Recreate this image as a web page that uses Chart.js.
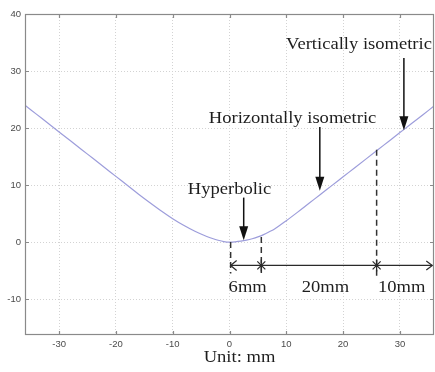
<!DOCTYPE html>
<html><head><meta charset="utf-8">
<script src="https://cdn.jsdelivr.net/npm/chart.js@4/dist/chart.umd.min.js"></script>
<style>html,body{margin:0;padding:0;background:#fff;overflow:hidden}canvas{display:block}</style>
</head><body>
<canvas id="c" width="435" height="372"></canvas>
<script>
// ---- data ----
const curveX = [-36,-34,-32,-30,-28,-26,-24,-22,-20,-18,-16,-14,-12,-10,-8,-6,-4,-3,-2,-1,0,1,2,3,4,5,6,7,8,10,12,14,16,18,20,22,24,26,28,30,32,34,36];
const curveY = [24.0,22.44,20.88,19.32,17.76,16.2,14.64,13.08,11.52,9.96,8.4,6.9,5.45,4.1,2.9,1.85,0.98,0.62,0.32,0.09,0,0.04,0.15,0.33,0.58,0.9,1.3,1.8,2.35,3.75,5.25,6.8,8.35,9.9,11.45,13.0,14.55,16.1,17.65,19.2,20.75,22.3,23.85];
const xTickValues = [-30,-20,-10,0,10,20,30];
const yTickValues = [-10,0,10,20,30,40];
const xLimits = [-36, 36];
const yLimits = [-16.3, 40];
const guideX = [0.2, 5.6, 25.9];          // dashed guide positions (mm)
const guideTop = [0, 0.9, 16.2];
const guideBottom = [-5.5, -5.5, -6.4];
const spanY = -4.1;                        // horizontal dimension line
const spanEnd = 35.7;
const spanLabels = ['6mm', '20mm', '10mm'];
const spanLabelX = [3.2, 16.9, 30.3];
const spanLabelY = -8.7;
const calloutText = ['Hyperbolic', 'Horizontally isometric', 'Vertically isometric'];
const calloutTextX = [0, 11.1, 22.8];
const calloutTextY = [8.5, 20.9, 33.8];
const calloutArrowX = [2.5, 15.9, 30.7];
const calloutArrowFrom = [7.8, 20.2, 32.3];
const calloutArrowTo = [0.3, 9.0, 19.6];
const axisLabel = 'Unit: mm';

const points = curveX.map((x, i) => ({x: x, y: curveY[i]}));

function stretchText(ctx, txt, px, py) {
  ctx.save();
  ctx.translate(px, py);
  ctx.scale(1.16, 1);
  ctx.fillText(txt, 0, 0);
  ctx.restore();
}

const annot = {
  id: 'annot',
  afterDatasetsDraw(chart) {
    const ctx = chart.ctx, xs = chart.scales.x, ys = chart.scales.y;
    const X = v => xs.getPixelForValue(v), Y = v => ys.getPixelForValue(v);
    ctx.save();
    // dashed guides
    ctx.strokeStyle = '#333'; ctx.lineWidth = 1.5; ctx.setLineDash([6, 4]);
    guideX.forEach((gx, i) => {
      ctx.beginPath(); ctx.moveTo(X(gx), Y(guideTop[i])); ctx.lineTo(X(gx), Y(guideBottom[i])); ctx.stroke();
    });
    ctx.setLineDash([]);
    // dimension line
    const yL = Y(spanY), x0 = X(guideX[0]), x1 = X(spanEnd);
    ctx.lineWidth = 1.2; ctx.strokeStyle = '#2a2a2a';
    ctx.beginPath(); ctx.moveTo(x0, yL); ctx.lineTo(x1, yL); ctx.stroke();
    ctx.beginPath(); ctx.moveTo(x0 + 6, yL - 5); ctx.lineTo(x0, yL); ctx.lineTo(x0 + 6, yL + 5); ctx.stroke();
    ctx.beginPath(); ctx.moveTo(x1 - 6, yL - 4.5); ctx.lineTo(x1, yL); ctx.lineTo(x1 - 6, yL + 4.5); ctx.stroke();
    // star marks
    [guideX[1], guideX[2]].forEach(gx => {
      const px = X(gx);
      ctx.beginPath();
      ctx.moveTo(px - 4, yL - 4); ctx.lineTo(px + 4, yL + 4);
      ctx.moveTo(px + 4, yL - 4); ctx.lineTo(px - 4, yL + 4);
      ctx.moveTo(px, yL - 6); ctx.lineTo(px, yL + 6);
      ctx.stroke();
    });
    // texts
    ctx.fillStyle = '#1e1e1e';
    ctx.font = '16px "Liberation Serif", "Times New Roman", serif';
    ctx.textAlign = 'center'; ctx.textBaseline = 'alphabetic';
    spanLabels.forEach((t, i) => stretchText(ctx, t, X(spanLabelX[i]), Y(spanLabelY)));
    calloutText.forEach((t, i) => stretchText(ctx, t, X(calloutTextX[i]), Y(calloutTextY[i])));
    // arrows
    ctx.strokeStyle = '#111'; ctx.fillStyle = '#111'; ctx.lineWidth = 1.5;
    calloutArrowX.forEach((ax, i) => {
      const px = X(ax), y1 = Y(calloutArrowFrom[i]), y2 = Y(calloutArrowTo[i]);
      ctx.beginPath(); ctx.moveTo(px, y1); ctx.lineTo(px, y2 - 12); ctx.stroke();
      ctx.beginPath(); ctx.moveTo(px - 4.5, y2 - 14); ctx.lineTo(px + 4.5, y2 - 14); ctx.lineTo(px, y2); ctx.closePath(); ctx.fill();
    });
    ctx.restore();
  },
  afterDraw(chart) {
    const ctx = chart.ctx, a = chart.chartArea, xs = chart.scales.x, ys = chart.scales.y;
    ctx.save();
    ctx.strokeStyle = '#8a8a8a'; ctx.lineWidth = 1.2;
    ctx.strokeRect(a.left + 0.5, a.top + 0.5, a.right - a.left - 1, a.bottom - a.top - 1);
    ctx.beginPath();
    xTickValues.forEach(v => {
      const px = Math.round(xs.getPixelForValue(v)) + 0.5;
      ctx.moveTo(px, a.bottom); ctx.lineTo(px, a.bottom - 4);
      ctx.moveTo(px, a.top); ctx.lineTo(px, a.top + 4);
    });
    yTickValues.forEach(v => {
      const py = Math.round(ys.getPixelForValue(v)) + 0.5;
      ctx.moveTo(a.left, py); ctx.lineTo(a.left + 4, py);
      ctx.moveTo(a.right, py); ctx.lineTo(a.right - 4, py);
    });
    ctx.stroke();
    // axis label
    ctx.fillStyle = '#1e1e1e';
    ctx.font = '16px "Liberation Serif", "Times New Roman", serif';
    ctx.textAlign = 'center'; ctx.textBaseline = 'alphabetic';
    stretchText(ctx, axisLabel, (a.left + a.right) / 2 + 10, chart.height - 10);
    ctx.restore();
  }
};

const tickFont = {family: '"Liberation Sans", Arial, sans-serif', size: 9.5};
new Chart(document.getElementById('c'), {
  type: 'scatter',
  data: {datasets: [{
    data: points, showLine: true, pointRadius: 0, borderColor: '#9d9ddb', borderWidth: 1.2,
    cubicInterpolationMode: 'monotone', fill: false
  }]},
  options: {
    responsive: false, animation: false, devicePixelRatio: 1,
    layout: {padding: {top: 14, right: 1, left: 0, bottom: 0}},
    plugins: {legend: {display: false}, tooltip: {enabled: false}},
    scales: {
      x: {
        type: 'linear', min: xLimits[0], max: xLimits[1],
        afterBuildTicks: s => { s.ticks = xTickValues.map(v => ({value: v})); },
        afterFit: s => { s.height = 37; },
        grid: {color: '#d3d3d3', drawTicks: false, lineWidth: 1},
        border: {display: false, dash: [1, 2]},
        ticks: {padding: 4, font: tickFont, color: '#4a4a4a', maxRotation: 0, autoSkip: false}
      },
      y: {
        type: 'linear', min: yLimits[0], max: yLimits[1],
        afterBuildTicks: s => { s.ticks = yTickValues.map(v => ({value: v})); },
        afterFit: s => { s.width = 25; },
        grid: {color: '#d3d3d3', drawTicks: false, lineWidth: 1},
        border: {display: false, dash: [1, 2]},
        ticks: {padding: 4, font: tickFont, color: '#4a4a4a', autoSkip: false}
      }
    }
  },
  plugins: [annot]
});
</script>
</body></html>
